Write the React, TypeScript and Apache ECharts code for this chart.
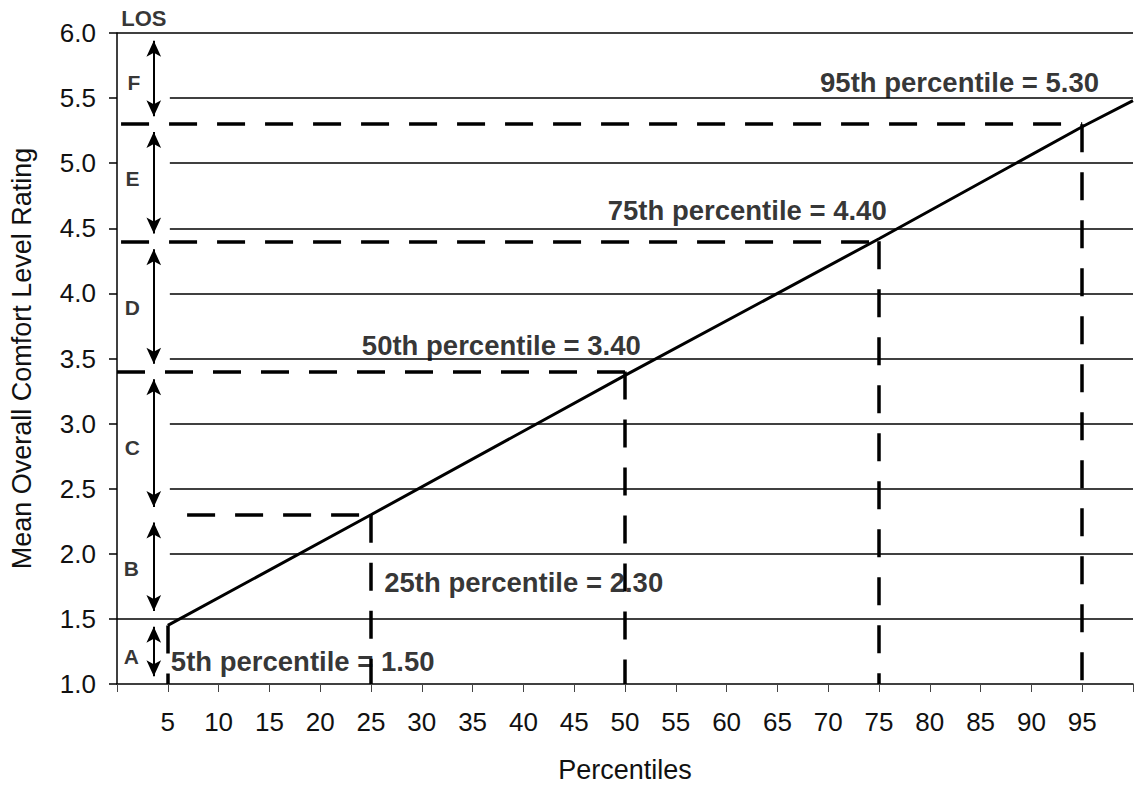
import React, { useEffect, useRef } from "react";
import * as echarts from "echarts";

// Main curve: percentile vs mean overall comfort level rating
const percentiles = [5, 25, 50, 75, 95, 100];
const ratings = [1.45, 2.3, 3.37, 4.42, 5.28, 5.48];

// Horizontal reference lines (grid)
const gridLevels = [1.5, 2.0, 2.5, 3.0, 3.5, 4.0, 4.5, 5.0, 5.5];
const gridStart = 5.2;

// Dashed guide lines: percentile, rating, horizontal start
const guidePercentiles = [5, 25, 50, 75, 95];
const guideRatings = [1.45, 2.3, 3.4, 4.4, 5.3];
const guideHStart = [null, 6.9, 0, 0.4, 0.4];

// Annotation labels: x (left edge), y (center)
const annotationTexts = [
  "95th percentile = 5.30",
  "75th percentile = 4.40",
  "50th percentile = 3.40",
  "25th percentile = 2.30",
  "5th percentile = 1.50",
];
const annotationX = [69.2, 48.3, 24.1, 26.3, 5.3];
const annotationY = [5.62, 4.64, 3.6, 1.78, 1.17];

// LOS bands
const losBounds = [6.0, 5.3, 4.4, 3.4, 2.3, 1.5, 1.0];
const losLetters = ["F", "E", "D", "C", "B", "A"];
const losLetterX = [1.66, 1.52, 1.5, 1.5, 1.42, 1.42];
const losLetterY = [5.62, 4.88, 3.89, 2.82, 1.89, 1.21];
const losArrowX = 3.62;

const FONT = "'Liberation Sans', Arial, Helvetica, sans-serif";

export default function App() {
  const ref = useRef<HTMLDivElement>(null);

  useEffect(() => {
    document.body.style.margin = "0";
    if (!ref.current) return;
    const chart = echarts.init(ref.current, undefined, { renderer: "svg" });

    const gridLines = [
      [{ coord: [0, 6.0] }, { coord: [100, 6.0] }],
      ...gridLevels.map((v) => [
        { coord: [v === 1.5 ? 0 : gridStart, v] },
        { coord: [100, v] },
      ]),
    ];

    const dashed: any[] = [];
    guidePercentiles.forEach((p, i) => {
      const v = guideRatings[i];
      const hs = guideHStart[i];
      if (hs !== null) dashed.push([{ coord: [hs, v] }, { coord: [p, v] }]);
      dashed.push([{ coord: [p, v] }, { coord: [p, 1.0] }]);
    });

    const shrink = 0.06;
    const arrows = losLetters.map((_, i) => [
      { coord: [losArrowX, losBounds[i] - shrink] },
      { coord: [losArrowX, losBounds[i + 1] + shrink] },
    ]);

    const option: any = {
      animation: false,
      grid: { left: 114, right: -4, top: 33, bottom: 104, containLabel: false },
      xAxis: {
        type: "value",
        min: 0,
        max: 100,
        interval: 5,
        name: "Percentiles",
        nameLocation: "middle",
        nameGap: 72,
        nameTextStyle: { fontSize: 27, color: "#111", fontFamily: FONT },
        axisLine: { show: true, lineStyle: { color: "#000", width: 1.5 } },
        axisTick: { show: true, length: 8, lineStyle: { color: "#444", width: 1 } },
        axisLabel: {
          fontSize: 26,
          color: "#111",
          fontFamily: FONT,
          margin: 25,
          formatter: (v: number) => (v === 0 || v === 100 ? "" : String(v)),
        },
        splitLine: { show: false },
      },
      yAxis: {
        type: "value",
        min: 1,
        max: 6,
        interval: 0.5,
        name: "Mean Overall Comfort Level Rating",
        nameLocation: "middle",
        nameGap: 82,
        nameTextStyle: { fontSize: 27, color: "#111", fontFamily: FONT },
        axisLine: { show: true, lineStyle: { color: "#000", width: 1.5 } },
        axisTick: { show: true, length: 8, lineStyle: { color: "#000", width: 1.5 } },
        axisLabel: {
          fontSize: 26,
          color: "#111",
          fontFamily: FONT,
          margin: 21,
          formatter: (v: number) => v.toFixed(1),
        },
        splitLine: { show: false },
      },
      series: [
        {
          type: "line",
          name: "grid",
          data: [],
          silent: true,
          markLine: {
            silent: true,
            symbol: "none",
            label: { show: false },
            lineStyle: { color: "#000", width: 1.5, type: "solid" },
            data: gridLines,
          },
        },
        {
          type: "line",
          name: "guides",
          data: [],
          silent: true,
          markLine: {
            silent: true,
            symbol: "none",
            label: { show: false },
            lineStyle: { color: "#000", width: 3.5, type: [28, 20] },
            data: dashed,
          },
        },
        {
          type: "line",
          name: "los",
          data: [],
          silent: true,
          markLine: {
            silent: true,
            symbol: ["arrow", "arrow"],
            symbolSize: [11, 16],
            label: { show: false },
            lineStyle: { color: "#000", width: 2, type: "solid" },
            itemStyle: { color: "#000" },
            data: arrows,
          },
        },
        {
          type: "line",
          name: "rating",
          data: percentiles.map((p, i) => [p, ratings[i]]),
          symbol: "none",
          lineStyle: { color: "#000", width: 3 },
          silent: true,
        },
        {
          type: "scatter",
          name: "annotations",
          symbolSize: 0,
          silent: true,
          clip: false,
          data: annotationTexts.map((t, i) => ({
            value: [annotationX[i], annotationY[i]],
            label: {
              show: true,
              position: "right",
              distance: 0,
              formatter: t,
              fontSize: 27.5,
              fontWeight: "bold",
              color: "#000",
              fontFamily: FONT,
            },
          })),
        },
        {
          type: "scatter",
          name: "losLabels",
          symbolSize: 0,
          silent: true,
          clip: false,
          data: [
            ...losLetters.map((l, i) => ({
              value: [losLetterX[i], losLetterY[i]],
              label: {
                show: true,
                position: "inside",
                formatter: l,
                fontSize: 21,
                fontWeight: "bold",
                color: "#000",
                fontFamily: FONT,
              },
            })),
            {
              value: [2.64, 6.11],
              label: {
                show: true,
                position: "inside",
                formatter: "LOS",
                fontSize: 22,
                fontWeight: "bold",
                color: "#000",
                fontFamily: FONT,
              },
            },
          ],
        },
      ],
    };

    chart.setOption(option);
    return () => chart.dispose();
  }, []);

  return <div ref={ref} style={{ width: 1136, height: 788 }} />;
}
